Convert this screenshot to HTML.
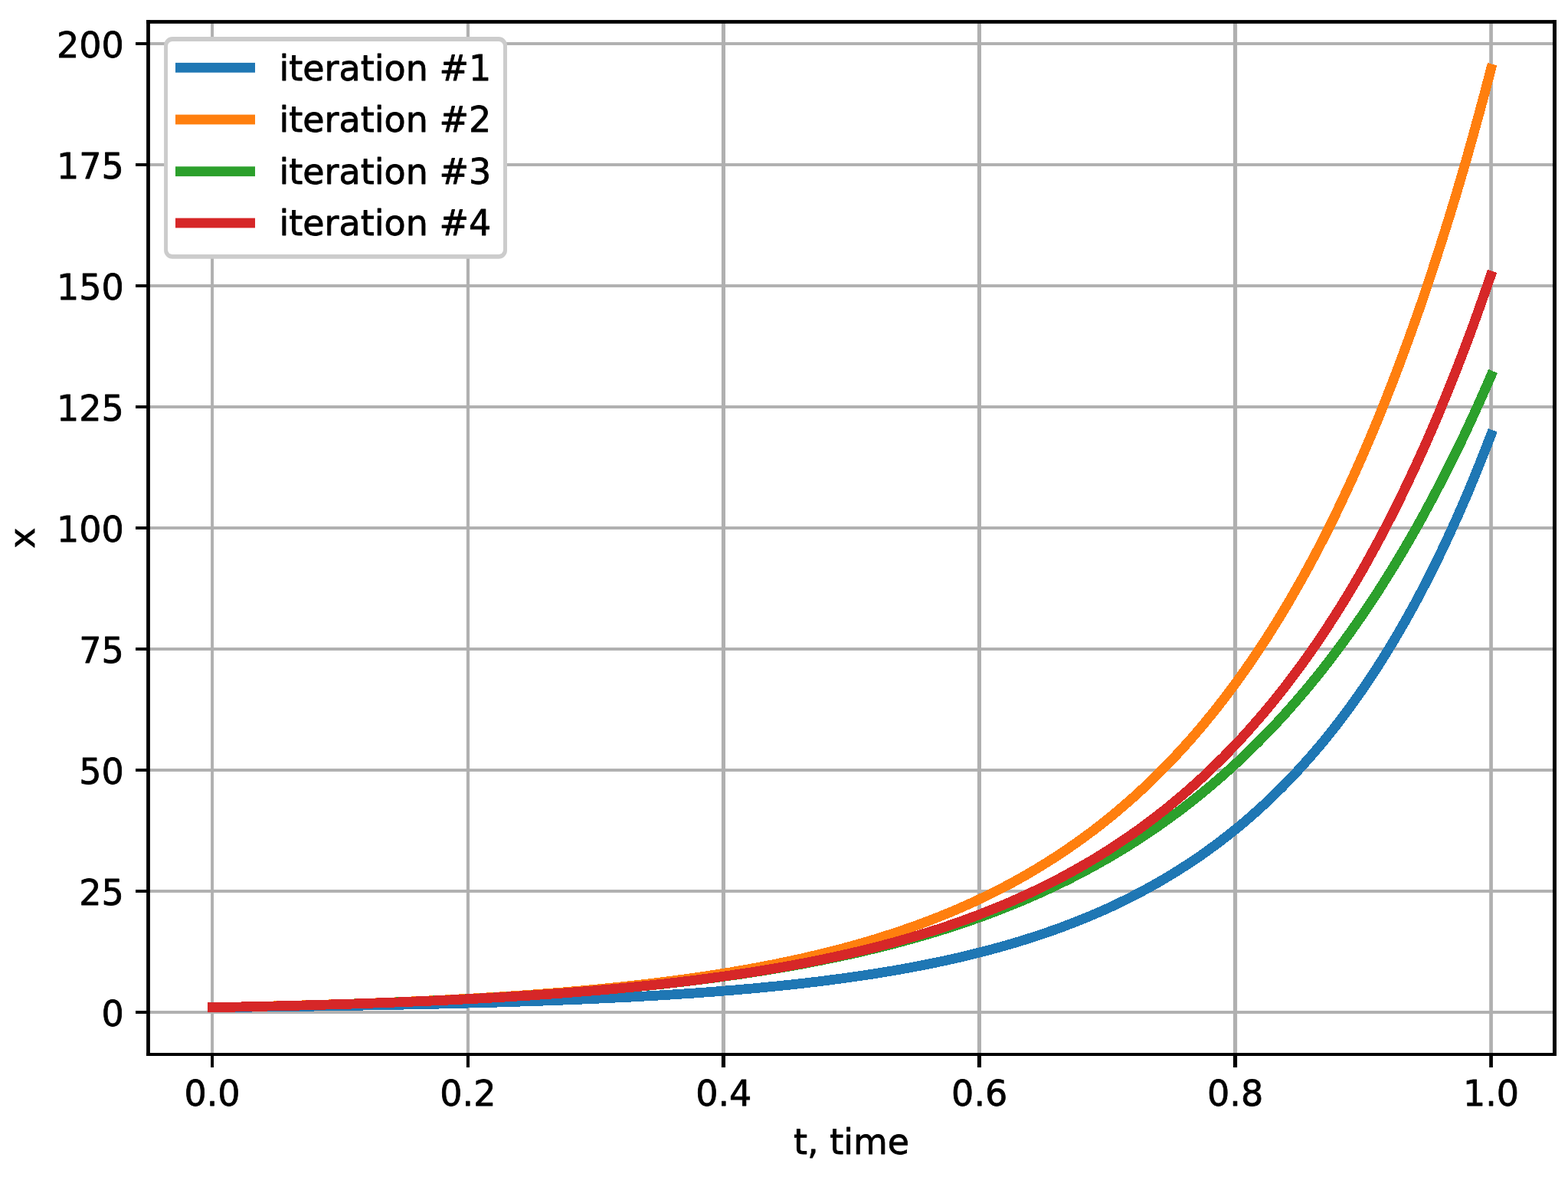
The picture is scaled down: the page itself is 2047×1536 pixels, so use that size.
<!DOCTYPE html>
<html lang="en">
<head>
<meta charset="utf-8">
<title>x vs t, time</title>
<style>
html, body { margin: 0; padding: 0; background: #ffffff; }
body { width: 2047px; height: 1536px; overflow: hidden; font-family: "DejaVu Sans", "Liberation Sans", sans-serif; }
svg { display: block; }
</style>
</head>
<body>
<svg width="2047" height="1536" viewBox="0 0 2047 1536">
<rect x="0" y="0" width="2047" height="1536" fill="#ffffff"/>
<defs><clipPath id="axclip"><rect x="193.50" y="28.45" width="1836.00" height="1347.55"/></clipPath></defs>
<g id="grid">
<rect x="275.10" y="28.45" width="3.90" height="1347.55" fill="#b0b0b0"/>
<rect x="608.90" y="28.45" width="4.10" height="1347.55" fill="#b0b0b0"/>
<rect x="941.90" y="28.45" width="5.10" height="1347.55" fill="#b0b0b0"/>
<rect x="1275.90" y="28.45" width="5.10" height="1347.55" fill="#b0b0b0"/>
<rect x="1609.90" y="28.45" width="5.20" height="1347.55" fill="#b0b0b0"/>
<rect x="1944.20" y="28.45" width="4.70" height="1347.55" fill="#b0b0b0"/>
<rect x="193.50" y="1319.05" width="1836.00" height="3.90" fill="#b0b0b0"/>
<rect x="193.50" y="1161.05" width="1836.00" height="3.90" fill="#b0b0b0"/>
<rect x="193.50" y="1003.05" width="1836.00" height="3.90" fill="#b0b0b0"/>
<rect x="193.50" y="845.05" width="1836.00" height="3.90" fill="#b0b0b0"/>
<rect x="193.50" y="687.05" width="1836.00" height="3.90" fill="#b0b0b0"/>
<rect x="193.50" y="529.05" width="1836.00" height="3.90" fill="#b0b0b0"/>
<rect x="193.50" y="371.05" width="1836.00" height="3.90" fill="#b0b0b0"/>
<rect x="193.50" y="213.05" width="1836.00" height="3.90" fill="#b0b0b0"/>
<rect x="193.50" y="55.05" width="1836.00" height="3.90" fill="#b0b0b0"/>
</g>
<g id="lines" shape-rendering="crispEdges" fill="none" stroke-width="12.8" stroke-linecap="square" stroke-linejoin="round" clip-path="url(#axclip)">
<path stroke="#1f77b4" d="M277.4 1314.7 L285.0 1314.6 L292.6 1314.5 L300.2 1314.4 L307.7 1314.4 L315.3 1314.3 L322.9 1314.2 L330.5 1314.1 L338.1 1314.0 L345.7 1313.9 L353.3 1313.8 L360.9 1313.8 L368.4 1313.7 L376.0 1313.6 L383.6 1313.5 L391.2 1313.4 L398.8 1313.3 L406.4 1313.2 L414.0 1313.0 L421.5 1312.9 L429.1 1312.8 L436.7 1312.7 L444.3 1312.6 L451.9 1312.5 L459.5 1312.3 L467.1 1312.2 L474.7 1312.1 L482.2 1311.9 L489.8 1311.8 L497.4 1311.7 L505.0 1311.5 L512.6 1311.4 L520.2 1311.2 L527.8 1311.1 L535.4 1310.9 L542.9 1310.8 L550.5 1310.6 L558.1 1310.4 L565.7 1310.3 L573.3 1310.1 L580.9 1309.9 L588.5 1309.7 L596.0 1309.5 L603.6 1309.3 L611.2 1309.1 L618.8 1308.9 L626.4 1308.7 L634.0 1308.5 L641.6 1308.3 L649.2 1308.1 L656.7 1307.8 L664.3 1307.6 L671.9 1307.4 L679.5 1307.1 L687.1 1306.9 L694.7 1306.6 L702.3 1306.3 L709.8 1306.1 L717.4 1305.8 L725.0 1305.5 L732.6 1305.2 L740.2 1304.9 L747.8 1304.6 L755.4 1304.3 L763.0 1304.0 L770.5 1303.6 L778.1 1303.3 L785.7 1302.9 L793.3 1302.6 L800.9 1302.2 L808.5 1301.8 L816.1 1301.5 L823.7 1301.1 L831.2 1300.7 L838.8 1300.2 L846.4 1299.8 L854.0 1299.4 L861.6 1298.9 L869.2 1298.5 L876.8 1298.0 L884.3 1297.5 L891.9 1297.0 L899.5 1296.5 L907.1 1296.0 L914.7 1295.4 L922.3 1294.9 L929.9 1294.3 L937.5 1293.7 L945.0 1293.1 L952.6 1292.5 L960.2 1291.9 L967.8 1291.2 L975.4 1290.6 L983.0 1289.9 L990.6 1289.2 L998.1 1288.5 L1005.7 1287.7 L1013.3 1287.0 L1020.9 1286.2 L1028.5 1285.4 L1036.1 1284.6 L1043.7 1283.8 L1051.3 1282.9 L1058.8 1282.0 L1066.4 1281.1 L1074.0 1280.2 L1081.6 1279.2 L1089.2 1278.2 L1096.8 1277.2 L1104.4 1276.2 L1111.9 1275.1 L1119.5 1274.0 L1127.1 1272.9 L1134.7 1271.8 L1142.3 1270.6 L1149.9 1269.4 L1157.5 1268.1 L1165.1 1266.9 L1172.6 1265.6 L1180.2 1264.2 L1187.8 1262.8 L1195.4 1261.4 L1203.0 1259.9 L1210.6 1258.4 L1218.2 1256.9 L1225.8 1255.3 L1233.3 1253.7 L1240.9 1252.0 L1248.5 1250.3 L1256.1 1248.6 L1263.7 1246.8 L1271.3 1244.9 L1278.9 1243.0 L1286.4 1241.1 L1294.0 1239.1 L1301.6 1237.0 L1309.2 1234.9 L1316.8 1232.7 L1324.4 1230.5 L1332.0 1228.2 L1339.6 1225.8 L1347.1 1223.4 L1354.7 1221.0 L1362.3 1218.4 L1369.9 1215.8 L1377.5 1213.1 L1385.1 1210.4 L1392.7 1207.5 L1400.2 1204.6 L1407.8 1201.6 L1415.4 1198.6 L1423.0 1195.4 L1430.6 1192.2 L1438.2 1188.9 L1445.8 1185.5 L1453.4 1182.0 L1460.9 1178.4 L1468.5 1174.7 L1476.1 1170.9 L1483.7 1167.0 L1491.3 1163.0 L1498.9 1158.9 L1506.5 1154.7 L1514.1 1150.4 L1521.6 1146.0 L1529.2 1141.4 L1536.8 1136.7 L1544.4 1131.9 L1552.0 1127.0 L1559.6 1121.9 L1567.2 1116.8 L1574.7 1111.4 L1582.3 1105.9 L1589.9 1100.3 L1597.5 1094.5 L1605.1 1088.6 L1612.7 1082.5 L1620.3 1076.3 L1627.9 1069.9 L1635.4 1063.3 L1643.0 1056.5 L1650.6 1049.6 L1658.2 1042.4 L1665.8 1035.1 L1673.4 1027.6 L1681.0 1019.9 L1688.5 1011.9 L1696.1 1003.8 L1703.7 995.4 L1711.3 986.9 L1718.9 978.0 L1726.5 969.0 L1734.1 959.7 L1741.7 950.2 L1749.2 940.4 L1756.8 930.3 L1764.4 920.0 L1772.0 909.4 L1779.6 898.5 L1787.2 887.3 L1794.8 875.8 L1802.4 864.0 L1809.9 851.9 L1817.5 839.5 L1825.1 826.7 L1832.7 813.6 L1840.3 800.1 L1847.9 786.2 L1855.5 772.0 L1863.0 757.4 L1870.6 742.3 L1878.2 726.9 L1885.8 711.0 L1893.4 694.7 L1901.0 678.0 L1908.6 660.7 L1916.2 643.1 L1923.7 624.9 L1931.3 606.3 L1938.9 587.1 L1946.5 567.4"/>
<path stroke="#ff7f0e" d="M277.4 1314.7 L285.0 1314.5 L292.6 1314.4 L300.2 1314.2 L307.7 1314.1 L315.3 1313.9 L322.9 1313.7 L330.5 1313.6 L338.1 1313.4 L345.7 1313.2 L353.3 1313.0 L360.9 1312.8 L368.4 1312.7 L376.0 1312.5 L383.6 1312.3 L391.2 1312.0 L398.8 1311.8 L406.4 1311.6 L414.0 1311.4 L421.5 1311.2 L429.1 1310.9 L436.7 1310.7 L444.3 1310.5 L451.9 1310.2 L459.5 1310.0 L467.1 1309.7 L474.7 1309.4 L482.2 1309.1 L489.8 1308.9 L497.4 1308.6 L505.0 1308.3 L512.6 1308.0 L520.2 1307.7 L527.8 1307.4 L535.4 1307.0 L542.9 1306.7 L550.5 1306.4 L558.1 1306.0 L565.7 1305.6 L573.3 1305.3 L580.9 1304.9 L588.5 1304.5 L596.0 1304.1 L603.6 1303.7 L611.2 1303.3 L618.8 1302.9 L626.4 1302.4 L634.0 1302.0 L641.6 1301.5 L649.2 1301.1 L656.7 1300.6 L664.3 1300.1 L671.9 1299.6 L679.5 1299.1 L687.1 1298.5 L694.7 1298.0 L702.3 1297.5 L709.8 1296.9 L717.4 1296.3 L725.0 1295.7 L732.6 1295.1 L740.2 1294.5 L747.8 1293.8 L755.4 1293.2 L763.0 1292.5 L770.5 1291.8 L778.1 1291.1 L785.7 1290.4 L793.3 1289.6 L800.9 1288.9 L808.5 1288.1 L816.1 1287.3 L823.7 1286.5 L831.2 1285.6 L838.8 1284.8 L846.4 1283.9 L854.0 1283.0 L861.6 1282.0 L869.2 1281.1 L876.8 1280.1 L884.3 1279.1 L891.9 1278.1 L899.5 1277.1 L907.1 1276.0 L914.7 1274.9 L922.3 1273.8 L929.9 1272.6 L937.5 1271.4 L945.0 1270.2 L952.6 1269.0 L960.2 1267.7 L967.8 1266.4 L975.4 1265.1 L983.0 1263.7 L990.6 1262.3 L998.1 1260.9 L1005.7 1259.4 L1013.3 1257.9 L1020.9 1256.3 L1028.5 1254.7 L1036.1 1253.1 L1043.7 1251.5 L1051.3 1249.8 L1058.8 1248.0 L1066.4 1246.2 L1074.0 1244.4 L1081.6 1242.5 L1089.2 1240.6 L1096.8 1238.6 L1104.4 1236.6 L1111.9 1234.5 L1119.5 1232.4 L1127.1 1230.2 L1134.7 1228.0 L1142.3 1225.7 L1149.9 1223.3 L1157.5 1220.9 L1165.1 1218.5 L1172.6 1216.0 L1180.2 1213.4 L1187.8 1210.7 L1195.4 1208.0 L1203.0 1205.3 L1210.6 1202.4 L1218.2 1199.5 L1225.8 1196.5 L1233.3 1193.4 L1240.9 1190.3 L1248.5 1187.1 L1256.1 1183.8 L1263.7 1180.4 L1271.3 1177.0 L1278.9 1173.4 L1286.4 1169.8 L1294.0 1166.1 L1301.6 1162.3 L1309.2 1158.4 L1316.8 1154.4 L1324.4 1150.3 L1332.0 1146.1 L1339.6 1141.8 L1347.1 1137.4 L1354.7 1132.9 L1362.3 1128.2 L1369.9 1123.5 L1377.5 1118.6 L1385.1 1113.7 L1392.7 1108.6 L1400.2 1103.3 L1407.8 1098.0 L1415.4 1092.5 L1423.0 1086.9 L1430.6 1081.2 L1438.2 1075.3 L1445.8 1069.2 L1453.4 1063.1 L1460.9 1056.7 L1468.5 1050.2 L1476.1 1043.6 L1483.7 1036.8 L1491.3 1029.8 L1498.9 1022.7 L1506.5 1015.3 L1514.1 1007.8 L1521.6 1000.2 L1529.2 992.3 L1536.8 984.2 L1544.4 976.0 L1552.0 967.5 L1559.6 958.9 L1567.2 950.0 L1574.7 940.9 L1582.3 931.6 L1589.9 922.1 L1597.5 912.3 L1605.1 902.4 L1612.7 892.1 L1620.3 881.6 L1627.9 870.9 L1635.4 859.9 L1643.0 848.6 L1650.6 837.1 L1658.2 825.3 L1665.8 813.2 L1673.4 800.8 L1681.0 788.1 L1688.5 775.1 L1696.1 761.8 L1703.7 748.2 L1711.3 734.2 L1718.9 720.0 L1726.5 705.3 L1734.1 690.4 L1741.7 675.0 L1749.2 659.3 L1756.8 643.2 L1764.4 626.8 L1772.0 609.9 L1779.6 592.7 L1787.2 575.0 L1794.8 556.9 L1802.4 538.4 L1809.9 519.4 L1817.5 500.0 L1825.1 480.1 L1832.7 459.7 L1840.3 438.9 L1847.9 417.6 L1855.5 395.8 L1863.0 373.4 L1870.6 350.5 L1878.2 327.1 L1885.8 303.2 L1893.4 278.7 L1901.0 253.6 L1908.6 227.9 L1916.2 201.5 L1923.7 174.6 L1931.3 147.0 L1938.9 118.8 L1946.5 89.9"/>
<path stroke="#2ca02c" d="M277.4 1314.7 L285.0 1314.5 L292.6 1314.4 L300.2 1314.2 L307.7 1314.1 L315.3 1313.9 L322.9 1313.7 L330.5 1313.6 L338.1 1313.4 L345.7 1313.2 L353.3 1313.0 L360.9 1312.9 L368.4 1312.7 L376.0 1312.5 L383.6 1312.3 L391.2 1312.1 L398.8 1311.9 L406.4 1311.7 L414.0 1311.4 L421.5 1311.2 L429.1 1311.0 L436.7 1310.8 L444.3 1310.5 L451.9 1310.3 L459.5 1310.0 L467.1 1309.8 L474.7 1309.5 L482.2 1309.3 L489.8 1309.0 L497.4 1308.7 L505.0 1308.4 L512.6 1308.1 L520.2 1307.8 L527.8 1307.5 L535.4 1307.2 L542.9 1306.9 L550.5 1306.6 L558.1 1306.3 L565.7 1305.9 L573.3 1305.6 L580.9 1305.2 L588.5 1304.9 L596.0 1304.5 L603.6 1304.1 L611.2 1303.7 L618.8 1303.3 L626.4 1302.9 L634.0 1302.5 L641.6 1302.1 L649.2 1301.6 L656.7 1301.2 L664.3 1300.7 L671.9 1300.3 L679.5 1299.8 L687.1 1299.3 L694.7 1298.8 L702.3 1298.3 L709.8 1297.8 L717.4 1297.3 L725.0 1296.7 L732.6 1296.2 L740.2 1295.6 L747.8 1295.0 L755.4 1294.4 L763.0 1293.8 L770.5 1293.2 L778.1 1292.6 L785.7 1291.9 L793.3 1291.3 L800.9 1290.6 L808.5 1289.9 L816.1 1289.2 L823.7 1288.5 L831.2 1287.7 L838.8 1287.0 L846.4 1286.2 L854.0 1285.4 L861.6 1284.6 L869.2 1283.8 L876.8 1282.9 L884.3 1282.0 L891.9 1281.2 L899.5 1280.3 L907.1 1279.3 L914.7 1278.4 L922.3 1277.4 L929.9 1276.4 L937.5 1275.4 L945.0 1274.4 L952.6 1273.3 L960.2 1272.3 L967.8 1271.2 L975.4 1270.0 L983.0 1268.9 L990.6 1267.7 L998.1 1266.5 L1005.7 1265.3 L1013.3 1264.0 L1020.9 1262.7 L1028.5 1261.4 L1036.1 1260.1 L1043.7 1258.7 L1051.3 1257.3 L1058.8 1255.8 L1066.4 1254.4 L1074.0 1252.9 L1081.6 1251.3 L1089.2 1249.8 L1096.8 1248.2 L1104.4 1246.5 L1111.9 1244.9 L1119.5 1243.2 L1127.1 1241.4 L1134.7 1239.6 L1142.3 1237.8 L1149.9 1235.9 L1157.5 1234.0 L1165.1 1232.1 L1172.6 1230.1 L1180.2 1228.0 L1187.8 1226.0 L1195.4 1223.8 L1203.0 1221.7 L1210.6 1219.4 L1218.2 1217.2 L1225.8 1214.8 L1233.3 1212.5 L1240.9 1210.1 L1248.5 1207.6 L1256.1 1205.0 L1263.7 1202.5 L1271.3 1199.8 L1278.9 1197.1 L1286.4 1194.4 L1294.0 1191.5 L1301.6 1188.7 L1309.2 1185.7 L1316.8 1182.7 L1324.4 1179.6 L1332.0 1176.5 L1339.6 1173.3 L1347.1 1170.0 L1354.7 1166.7 L1362.3 1163.2 L1369.9 1159.7 L1377.5 1156.2 L1385.1 1152.5 L1392.7 1148.8 L1400.2 1145.0 L1407.8 1141.1 L1415.4 1137.1 L1423.0 1133.0 L1430.6 1128.9 L1438.2 1124.6 L1445.8 1120.3 L1453.4 1115.8 L1460.9 1111.3 L1468.5 1106.7 L1476.1 1102.0 L1483.7 1097.1 L1491.3 1092.2 L1498.9 1087.2 L1506.5 1082.0 L1514.1 1076.8 L1521.6 1071.4 L1529.2 1065.9 L1536.8 1060.3 L1544.4 1054.6 L1552.0 1048.7 L1559.6 1042.8 L1567.2 1036.7 L1574.7 1030.4 L1582.3 1024.1 L1589.9 1017.6 L1597.5 1010.9 L1605.1 1004.1 L1612.7 997.2 L1620.3 990.1 L1627.9 982.9 L1635.4 975.5 L1643.0 968.0 L1650.6 960.3 L1658.2 952.4 L1665.8 944.4 L1673.4 936.1 L1681.0 927.8 L1688.5 919.2 L1696.1 910.5 L1703.7 901.5 L1711.3 892.4 L1718.9 883.1 L1726.5 873.6 L1734.1 863.9 L1741.7 853.9 L1749.2 843.8 L1756.8 833.5 L1764.4 822.9 L1772.0 812.1 L1779.6 801.1 L1787.2 789.8 L1794.8 778.4 L1802.4 766.6 L1809.9 754.6 L1817.5 742.4 L1825.1 729.9 L1832.7 717.2 L1840.3 704.1 L1847.9 690.9 L1855.5 677.3 L1863.0 663.4 L1870.6 649.3 L1878.2 634.8 L1885.8 620.1 L1893.4 605.0 L1901.0 589.7 L1908.6 574.0 L1916.2 557.9 L1923.7 541.6 L1931.3 524.9 L1938.9 507.8 L1946.5 490.3"/>
<path stroke="#d62728" d="M277.4 1314.7 L285.0 1314.5 L292.6 1314.4 L300.2 1314.2 L307.7 1314.1 L315.3 1313.9 L322.9 1313.7 L330.5 1313.6 L338.1 1313.4 L345.7 1313.2 L353.2 1313.0 L360.8 1312.9 L368.4 1312.7 L376.0 1312.5 L383.6 1312.3 L391.2 1312.1 L398.8 1311.9 L406.3 1311.7 L413.9 1311.5 L421.5 1311.2 L429.1 1311.0 L436.7 1310.8 L444.3 1310.5 L451.8 1310.3 L459.4 1310.1 L467.0 1309.8 L474.6 1309.6 L482.2 1309.3 L489.8 1309.0 L497.4 1308.7 L504.9 1308.5 L512.5 1308.2 L520.1 1307.9 L527.7 1307.6 L535.3 1307.3 L542.9 1306.9 L550.4 1306.6 L558.0 1306.3 L565.6 1306.0 L573.2 1305.6 L580.8 1305.3 L588.4 1304.9 L596.0 1304.5 L603.5 1304.1 L611.1 1303.8 L618.7 1303.4 L626.3 1303.0 L633.9 1302.5 L641.5 1302.1 L649.0 1301.7 L656.6 1301.2 L664.2 1300.8 L671.8 1300.3 L679.4 1299.8 L687.0 1299.4 L694.6 1298.9 L702.1 1298.3 L709.7 1297.8 L717.3 1297.3 L724.9 1296.7 L732.5 1296.2 L740.1 1295.6 L747.6 1295.0 L755.2 1294.4 L762.8 1293.8 L770.4 1293.2 L778.0 1292.6 L785.6 1291.9 L793.2 1291.2 L800.7 1290.6 L808.3 1289.9 L815.9 1289.1 L823.5 1288.4 L831.1 1287.7 L838.7 1286.9 L846.2 1286.1 L853.8 1285.3 L861.4 1284.5 L869.0 1283.7 L876.6 1282.8 L884.2 1281.9 L891.8 1281.0 L899.3 1280.1 L906.9 1279.2 L914.5 1278.2 L922.1 1277.2 L929.7 1276.2 L937.3 1275.2 L944.8 1274.1 L952.4 1273.0 L960.0 1271.9 L967.6 1270.8 L975.2 1269.7 L982.8 1268.5 L990.4 1267.3 L997.9 1266.0 L1005.5 1264.8 L1013.1 1263.5 L1020.7 1262.2 L1028.3 1260.8 L1035.9 1259.4 L1043.4 1258.0 L1051.0 1256.6 L1058.6 1255.1 L1066.2 1253.6 L1073.8 1252.0 L1081.4 1250.4 L1089.0 1248.8 L1096.5 1247.1 L1104.1 1245.4 L1111.7 1243.7 L1119.3 1241.9 L1126.9 1240.1 L1134.5 1238.2 L1142.0 1236.3 L1149.6 1234.4 L1157.2 1232.4 L1164.8 1230.4 L1172.4 1228.3 L1180.0 1226.1 L1187.6 1224.0 L1195.1 1221.7 L1202.7 1219.4 L1210.3 1217.1 L1217.9 1214.7 L1225.5 1212.3 L1233.1 1209.8 L1240.6 1207.2 L1248.2 1204.6 L1255.8 1201.9 L1263.4 1199.1 L1271.0 1196.3 L1278.6 1193.5 L1286.2 1190.5 L1293.7 1187.5 L1301.3 1184.4 L1308.9 1181.3 L1316.5 1178.1 L1324.1 1174.8 L1331.7 1171.4 L1339.2 1167.9 L1346.8 1164.4 L1354.4 1160.8 L1362.0 1157.1 L1369.6 1153.3 L1377.2 1149.4 L1384.8 1145.5 L1392.3 1141.4 L1399.9 1137.3 L1407.5 1133.0 L1415.1 1128.7 L1422.7 1124.3 L1430.3 1119.7 L1437.8 1115.1 L1445.4 1110.3 L1453.0 1105.4 L1460.6 1100.4 L1468.2 1095.3 L1475.8 1090.1 L1483.4 1084.8 L1490.9 1079.3 L1498.5 1073.7 L1506.1 1068.0 L1513.7 1062.1 L1521.3 1056.2 L1528.9 1050.0 L1536.4 1043.7 L1544.0 1037.3 L1551.6 1030.8 L1559.2 1024.0 L1566.8 1017.1 L1574.4 1010.1 L1582.0 1002.9 L1589.5 995.5 L1597.1 988.0 L1604.7 980.3 L1612.3 972.3 L1619.9 964.3 L1627.5 956.0 L1635.0 947.5 L1642.6 938.8 L1650.2 930.0 L1657.8 920.9 L1665.4 911.6 L1673.0 902.1 L1680.6 892.3 L1688.1 882.4 L1695.7 872.2 L1703.3 861.7 L1710.9 851.0 L1718.5 840.1 L1726.1 828.9 L1733.6 817.5 L1741.2 805.7 L1748.8 793.8 L1756.4 781.5 L1764.0 768.9 L1771.6 756.0 L1779.2 742.9 L1786.7 729.4 L1794.3 715.6 L1801.9 701.5 L1809.5 687.0 L1817.1 672.2 L1824.7 657.1 L1832.2 641.6 L1839.8 625.7 L1847.4 609.5 L1855.0 592.9 L1862.6 575.9 L1870.2 558.4 L1877.8 540.6 L1885.3 522.3 L1892.9 503.7 L1900.5 484.5 L1908.1 465.0 L1915.7 444.9 L1923.3 424.4 L1930.8 403.4 L1938.4 381.9 L1946.0 359.9"/>
</g>
<g id="ticks">
<rect x="275.10" y="1376.00" width="3.90" height="17.00" fill="#000000"/>
<rect x="608.90" y="1376.00" width="4.10" height="17.00" fill="#000000"/>
<rect x="941.90" y="1376.00" width="5.10" height="17.00" fill="#000000"/>
<rect x="1275.90" y="1376.00" width="5.10" height="17.00" fill="#000000"/>
<rect x="1609.90" y="1376.00" width="5.20" height="17.00" fill="#000000"/>
<rect x="1944.20" y="1376.00" width="4.70" height="17.00" fill="#000000"/>
<rect x="177.00" y="1319.05" width="16.50" height="3.90" fill="#000000"/>
<rect x="177.00" y="1161.05" width="16.50" height="3.90" fill="#000000"/>
<rect x="177.00" y="1003.05" width="16.50" height="3.90" fill="#000000"/>
<rect x="177.00" y="845.05" width="16.50" height="3.90" fill="#000000"/>
<rect x="177.00" y="687.05" width="16.50" height="3.90" fill="#000000"/>
<rect x="177.00" y="529.05" width="16.50" height="3.90" fill="#000000"/>
<rect x="177.00" y="371.05" width="16.50" height="3.90" fill="#000000"/>
<rect x="177.00" y="213.05" width="16.50" height="3.90" fill="#000000"/>
<rect x="177.00" y="55.05" width="16.50" height="3.90" fill="#000000"/>
</g>
<g id="spines">
<rect x="191.10" y="26.10" width="4.80" height="1351.90" fill="#000000"/>
<rect x="2027.00" y="26.10" width="5.00" height="1351.90" fill="#000000"/>
<rect x="191.10" y="26.10" width="1840.90" height="4.70" fill="#000000"/>
<rect x="191.10" y="1374.00" width="1840.90" height="4.00" fill="#000000"/>
</g>
<g id="labels" font-family='"DejaVu Sans", "Liberation Sans", sans-serif' font-size="46.0" fill="#000000" stroke="#000000" stroke-width="0.8" stroke-linejoin="round">
<text x="277.00" y="1443" text-anchor="middle">0.0</text>
<text x="610.90" y="1443" text-anchor="middle">0.2</text>
<text x="944.80" y="1443" text-anchor="middle">0.4</text>
<text x="1278.70" y="1443" text-anchor="middle">0.6</text>
<text x="1612.60" y="1443" text-anchor="middle">0.8</text>
<text x="1946.50" y="1443" text-anchor="middle">1.0</text>
<text x="161.8" y="1338.50" text-anchor="end">0</text>
<text x="161.8" y="1180.50" text-anchor="end">25</text>
<text x="161.8" y="1022.50" text-anchor="end">50</text>
<text x="161.8" y="864.50" text-anchor="end">75</text>
<text x="161.8" y="706.50" text-anchor="end">100</text>
<text x="161.8" y="548.50" text-anchor="end">125</text>
<text x="161.8" y="390.50" text-anchor="end">150</text>
<text x="161.8" y="232.50" text-anchor="end">175</text>
<text x="161.8" y="74.50" text-anchor="end">200</text>
<text x="1111.50" y="1506" text-anchor="middle">t, time</text>
<text transform="translate(45.3 702.23) rotate(-90)" text-anchor="middle">x</text>
</g>
<g id="legend">
<path d="M225.10 48.10H651.00A11 11 0 0 1 662.00 59.10V326.70A11 11 0 0 1 651.00 337.70H225.10A11 11 0 0 1 214.10 326.70V59.10A11 11 0 0 1 225.10 48.10Z" fill="#cccccc"/>
<path d="M225.00 54.00H651.00A6 6 0 0 1 657.00 60.00V325.90A6 6 0 0 1 651.00 331.90H225.00A6 6 0 0 1 219.00 325.90V60.00A6 6 0 0 1 225.00 54.00Z" fill="#ffffff"/>
<g font-family='"DejaVu Sans", "Liberation Sans", sans-serif' font-size="46.0" fill="#000000" stroke="#000000" stroke-width="0.8" stroke-linejoin="round">
<rect x="229.00" y="81.90" width="104.00" height="12.80" fill="#1f77b4" stroke="none"/>
<text x="364.5" y="104.60">iteration #1</text>
<rect x="229.00" y="149.60" width="104.00" height="12.80" fill="#ff7f0e" stroke="none"/>
<text x="364.5" y="172.30">iteration #2</text>
<rect x="229.00" y="217.30" width="104.00" height="12.80" fill="#2ca02c" stroke="none"/>
<text x="364.5" y="240.00">iteration #3</text>
<rect x="229.00" y="284.60" width="104.00" height="12.80" fill="#d62728" stroke="none"/>
<text x="364.5" y="307.30">iteration #4</text>
</g></g>
</svg>
</body>
</html>
